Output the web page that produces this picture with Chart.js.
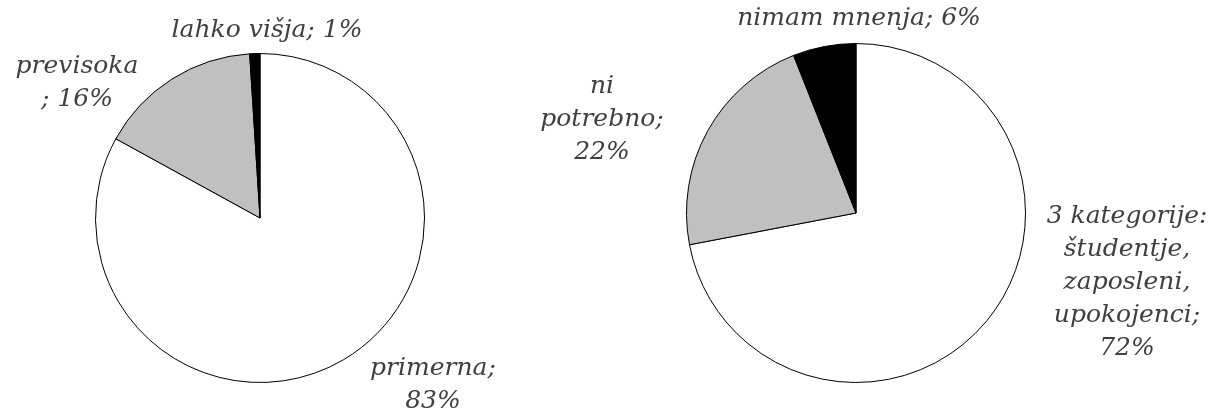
<!DOCTYPE html>
<html>
<head>
<meta charset="utf-8">
<script src="https://cdn.jsdelivr.net/npm/chart.js@4.4.1/dist/chart.umd.min.js"></script>
<style>
  html, body { margin: 0; padding: 0; background: #ffffff; }
  #wrap { position: relative; width: 1226px; height: 419px; overflow: hidden; }
  .box { position: absolute; left: 0; top: 0; width: 1226px; height: 419px; }
</style>
</head>
<body>
<div id="wrap">
  <div class="box"><canvas id="c1" width="1226" height="419"></canvas></div>
  <div class="box"><canvas id="c2" width="1226" height="419"></canvas></div>
</div>
<script>
// ---- data ----
const leftCategories = ['primerna', 'previsoka', 'lahko višja'];
const leftValues = [83, 16, 1];
const leftLabelLines = [['primerna;', '83%'], ['previsoka', '; 16%'], ['lahko višja; 1%']];

const rightCategories = ['3 kategorije: študentje, zaposleni, upokojenci', 'ni potrebno', 'nimam mnenja'];
const rightValues = [72, 22, 6];
const rightLabelLines = [['3 kategorije:', 'študentje,', 'zaposleni,', 'upokojenci;', '72%'], ['ni', 'potrebno;', '22%'], ['nimam mnenja; 6%']];

const sliceColors = ['#ffffff', '#c0c0c0', '#000000'];

// ---- label plugin ----
const labelPlugin = {
  id: 'sliceLabels',
  afterDraw(chart, args, opts) {
    const ctx = chart.ctx;
    ctx.save();
    ctx.font = opts.font;
    ctx.fillStyle = opts.color;
    ctx.textAlign = 'center';
    ctx.textBaseline = 'middle';
    opts.lines.forEach((lines, i) => {
      const p = opts.positions[i];
      lines.forEach((t, j) => {
        ctx.fillText(t, p[0], p[1] + j * opts.lineHeight);
      });
    });
    ctx.restore();
  }
};

function makePie(id, cats, vals, lines, padding, positions) {
  return new Chart(document.getElementById(id), {
    type: 'pie',
    data: {
      labels: cats,
      datasets: [{
        data: vals,
        backgroundColor: sliceColors,
        borderColor: '#000000',
        borderWidth: 1,
        borderJoinStyle: 'miter'
      }]
    },
    options: {
      responsive: false,
      animation: false,
      events: [],
      layout: { padding: padding },
      plugins: {
        legend: { display: false },
        tooltip: { enabled: false },
        sliceLabels: {
          font: 'italic 25px "DejaVu Serif"',
          color: '#404040',
          lineHeight: 33,
          lines: lines,
          positions: positions
        }
      }
    },
    plugins: [labelPlugin]
  });
}

makePie('c1', leftCategories, leftValues, leftLabelLines,
  { left: 95, right: 801, top: 53, bottom: 36 },
  [[433, 368], [77, 66], [267, 30]]);

makePie('c2', rightCategories, rightValues, rightLabelLines,
  { left: 686, right: 200, top: 43, bottom: 36 },
  [[1127, 216], [602, 86], [859, 18]]);
</script>
</body>
</html>
